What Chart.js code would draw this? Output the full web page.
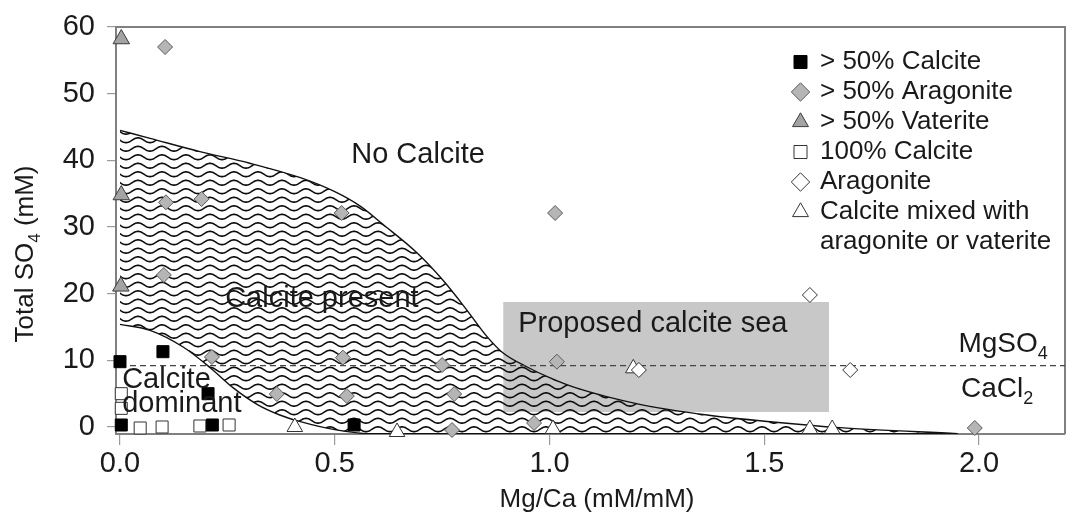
<!DOCTYPE html>
<html>
<head>
<meta charset="utf-8">
<script src="https://cdn.jsdelivr.net/npm/chart.js@4/dist/chart.umd.min.js"></script>
<style>
  html, body { margin: 0; padding: 0; background: #ffffff; }
  #wrap { width: 1067px; height: 515px; position: relative; }
</style>
</head>
<body>
<div id="wrap"><canvas id="c" width="1067" height="515"></canvas></div>
<script>
// ---------------- data ----------------
const xTicks = [0.0, 0.5, 1.0, 1.5, 2.0];
const yTicks = [0, 10, 20, 30, 40, 50, 60];

const seriesNames = ['> 50% Calcite', '> 50% Aragonite', '> 50% Vaterite', '100% Calcite', 'Aragonite', ['Calcite mixed with', 'aragonite or vaterite']];

const calcite50X = [0.0, 0.1, 0.205, 0.003, 0.215, 0.545];
const calcite50Y = [9.8, 11.3, 5.0, 0.3, 0.3, 0.3];

const aragonite50X = [0.105, 0.107, 0.19, 0.516, 0.102, 0.214, 0.519, 0.365, 0.528, 0.75, 0.778, 0.773, 0.964, 1.017, 1.013, 1.99];
const aragonite50Y = [57.0, 33.7, 34.2, 32.1, 22.8, 10.5, 10.4, 4.95, 4.65, 9.3, 4.95, -0.45, 0.6, 9.8, 32.1, -0.15];

const vaterite50X = [0.003, 0.003, 0.002];
const vaterite50Y = [58.2, 34.8, 21.1];

const calcite100X = [0.003, 0.003, 0.047, 0.098, 0.186, 0.254];
const calcite100Y = [5.0, 2.8, -0.15, 0.0, 0.15, 0.3];

const aragonite100X = [1.208, 1.606, 1.70];
const aragonite100Y = [8.55, 19.8, 8.55];

const mixedX = [0.407, 0.645, 1.008, 1.195, 1.606, 1.658];
const mixedY = [0.0, -0.75, -0.3, 8.8, -0.3, -0.3];

// boundary of the "Calcite present" field
const upperBoundX = [0, 0.07, 0.186, 0.3, 0.42, 0.5, 0.56, 0.612, 0.69, 0.752, 0.808, 0.854, 0.892, 0.948, 1.0, 1.06, 1.21, 1.367, 1.52, 1.676, 1.95];
const upperBoundY = [44.5, 43.3, 41.3, 39.6, 37.4, 35.3, 33.1, 30.4, 26.2, 22.0, 17.5, 13.6, 11.1, 9.0, 7.4, 5.9, 3.4, 1.8, 0.75, -0.1, -1.0];
const lowerBoundX = [0, 0.07, 0.147, 0.21, 0.263, 0.319, 0.372, 0.42, 0.5, 0.58, 1.95];
const lowerBoundY = [15.4, 14.5, 12.0, 8.9, 5.9, 3.4, 1.8, 0.8, -0.4, -1.0, -1.0];

// proposed calcite sea box
const seaX = [0.892, 1.651];
const seaY = [18.75, 18.75];
const seaBottom = 2.25;

// MgSO4 / CaCl2 divider
const dividerX = [0, 2.2];
const dividerY = [9.2, 9.2];

const zip = (xs, ys) => xs.map((x, i) => ({ x: x, y: ys[i] }));

// ---------------- styles ----------------
const FONT = '"Liberation Sans", Arial, Helvetica, sans-serif';
const TEXT = '#1a1a1a';
Chart.defaults.font.family = FONT;
Chart.defaults.color = TEXT;

function wavePattern() {
  const c = document.createElement('canvas');
  c.width = 48; c.height = 17;
  const g = c.getContext('2d');
  g.strokeStyle = '#0d0d0d';
  g.lineWidth = 1.6;
  [4.25, 12.75].forEach(base => {
    g.beginPath();
    for (let x = -2; x <= 50; x += 0.5) {
      const y = base + 2.4 * Math.sin(2 * Math.PI * x / 24);
      if (x === -2) g.moveTo(x, y); else g.lineTo(x, y);
    }
    g.stroke();
  });
  return g.createPattern(c, 'repeat');
}

function pointSet(label, xs, ys, style, radius, fill, stroke) {
  return {
    label: label, data: zip(xs, ys), showLine: false,
    pointStyle: style, pointRadius: radius, pointHoverRadius: radius,
    backgroundColor: fill, borderColor: stroke, borderWidth: 1,
    pointBackgroundColor: fill, pointBorderColor: stroke, pointBorderWidth: 1,
    clip: false
  };
}

// text annotations in data coordinates
const notes = [
  { parts: [{ t: 'No Calcite' }], x: 0.694, y: 39.6, align: 'center', size: 29 },
  { parts: [{ t: 'Calcite present' }], x: 0.47, y: 18.0, align: 'center', size: 29 },
  { parts: [{ t: 'Proposed calcite sea' }], x: 0.927, y: 14.25, align: 'left', size: 29 },
  { parts: [{ t: 'Calcite' }], x: 0.005, y: 5.85, align: 'left', size: 29 },
  { parts: [{ t: 'dominant' }], x: 0.005, y: 2.25, align: 'left', size: 29 },
  { parts: [{ t: 'MgSO' }, { t: '4', sub: true }], x: 2.16, y: 11.25, align: 'right', size: 28 },
  { parts: [{ t: 'CaCl' }, { t: '2', sub: true }], x: 2.126, y: 4.5, align: 'right', size: 28 }
];

function drawRich(ctx, parts, x, y, align, size) {
  const subSize = Math.round(size * 0.64);
  const widths = parts.map(p => {
    ctx.font = (p.sub ? subSize : size) + 'px ' + FONT;
    return ctx.measureText(p.t).width;
  });
  const total = widths.reduce((a, b) => a + b, 0);
  let cx = align === 'center' ? x - total / 2 : (align === 'right' ? x - total : x);
  ctx.textAlign = 'left';
  ctx.textBaseline = 'alphabetic';
  parts.forEach((p, i) => {
    ctx.font = (p.sub ? subSize : size) + 'px ' + FONT;
    ctx.fillText(p.t, cx, y + (p.sub ? size * 0.26 : 0));
    cx += widths[i];
  });
}

const decorPlugin = {
  id: 'decor',
  afterLayout(chart) {
    const lg = chart.legend;
    if (!lg) return;
    const w = lg.width, h = lg.height;
    lg.left = 790; lg.top = 45; lg.right = lg.left + w; lg.bottom = lg.top + h;
  },
  beforeDatasetsDraw(chart) {
    const { ctx, chartArea: a } = chart;
    ctx.save();
    ctx.strokeStyle = '#808080';
    ctx.lineWidth = 2;
    ctx.beginPath();
    ctx.moveTo(a.left, a.top); ctx.lineTo(a.right, a.top); ctx.lineTo(a.right, a.bottom);
    ctx.stroke();
    ctx.restore();
  },
  afterDatasetsDraw(chart) {
    const { ctx } = chart;
    const xs = chart.scales.x, ys = chart.scales.y;
    ctx.save();
    ctx.fillStyle = TEXT;
    notes.forEach(n => drawRich(ctx, n.parts, xs.getPixelForValue(n.x), ys.getPixelForValue(n.y), n.align, n.size));
    // axis titles
    drawRich(ctx, [{ t: 'Mg/Ca (mM/mM)' }], 597, 507, 'center', 26);
    ctx.translate(33, 254);
    ctx.rotate(-Math.PI / 2);
    drawRich(ctx, [{ t: 'Total SO' }, { t: '4', sub: true }, { t: ' (mM)' }], 0, 0, 'center', 26);
    ctx.restore();
  }
};

const datasets = [
  pointSet(seriesNames[0], calcite50X, calcite50Y, 'rect', 8.5, '#000000', '#000000'),
  pointSet(seriesNames[1], aragonite50X, aragonite50Y, 'rectRot', 7.5, '#b5b5b5', '#5a5a5a'),
  pointSet(seriesNames[2], vaterite50X, vaterite50Y, 'triangle', 9.5, '#a3a3a3', '#3c3c3c'),
  pointSet(seriesNames[3], calcite100X, calcite100Y, 'rect', 8.5, '#ffffff', '#333333'),
  pointSet(seriesNames[4], aragonite100X, aragonite100Y, 'rectRot', 7.5, '#ffffff', '#333333'),
  pointSet(seriesNames[5], mixedX, mixedY, 'triangle', 9, '#ffffff', '#333333'),
  {
    label: 'divider', data: zip(dividerX, dividerY), showLine: true, pointRadius: 0,
    borderColor: '#444444', borderWidth: 1.3, borderDash: [6, 4], fill: false
  },
  {
    label: 'upper', data: zip(upperBoundX, upperBoundY), showLine: true, pointRadius: 0,
    borderColor: '#111111', borderWidth: 1.4, cubicInterpolationMode: 'monotone',
    fill: '+1', backgroundColor: wavePattern()
  },
  {
    label: 'lower', data: zip(lowerBoundX, lowerBoundY), showLine: true, pointRadius: 0,
    borderColor: '#111111', borderWidth: 1.4, cubicInterpolationMode: 'monotone', fill: false
  },
  {
    label: 'sea', data: zip(seaX, seaY), showLine: true, pointRadius: 0,
    borderWidth: 0, borderColor: 'rgba(0,0,0,0)', backgroundColor: '#c8c8c8',
    fill: { value: seaBottom }
  }
];

new Chart(document.getElementById('c'), {
  type: 'line',
  data: { datasets: datasets },
  options: {
    responsive: false,
    animation: false,
    events: [],
    layout: { autoPadding: false, padding: { top: 27, right: 2, left: 0, bottom: 0 } },
    scales: {
      x: {
        type: 'linear', min: -0.0093, max: 2.2,
        afterFit: s => { s.height = 81; s.paddingLeft = 0; s.paddingRight = 0; },
        afterBuildTicks: s => { s.ticks = xTicks.map(v => ({ value: v })); },
        grid: { drawOnChartArea: false, drawTicks: true, tickLength: 11, color: '#9a9a9a', lineWidth: 1.2 },
        border: { display: true, color: '#808080', width: 2 },
        ticks: { autoSkip: false, maxRotation: 0, padding: 2, color: TEXT, font: { size: 29 }, callback: v => Number(v).toFixed(1) }
      },
      y: {
        type: 'linear', min: -1.05, max: 60,
        afterFit: s => { s.width = 116; s.paddingTop = 0; s.paddingBottom = 0; },
        afterBuildTicks: s => { s.ticks = yTicks.map(v => ({ value: v })); },
        grid: { drawOnChartArea: false, drawTicks: true, tickLength: 9, color: '#9a9a9a', lineWidth: 1.2 },
        border: { display: true, color: '#808080', width: 2 },
        ticks: { padding: 12, color: TEXT, font: { size: 29 }, callback: v => String(v) }
      }
    },
    plugins: {
      legend: {
        display: true, position: 'chartArea', align: 'start',
        labels: {
          usePointStyle: true, boxWidth: 13, boxHeight: 13, padding: 4,
          color: TEXT, font: { size: 26, lineHeight: 1.15 },
          filter: item => item.datasetIndex < 6
        }
      },
      tooltip: { enabled: false }
    }
  },
  plugins: [decorPlugin]
});
</script>
</body>
</html>
